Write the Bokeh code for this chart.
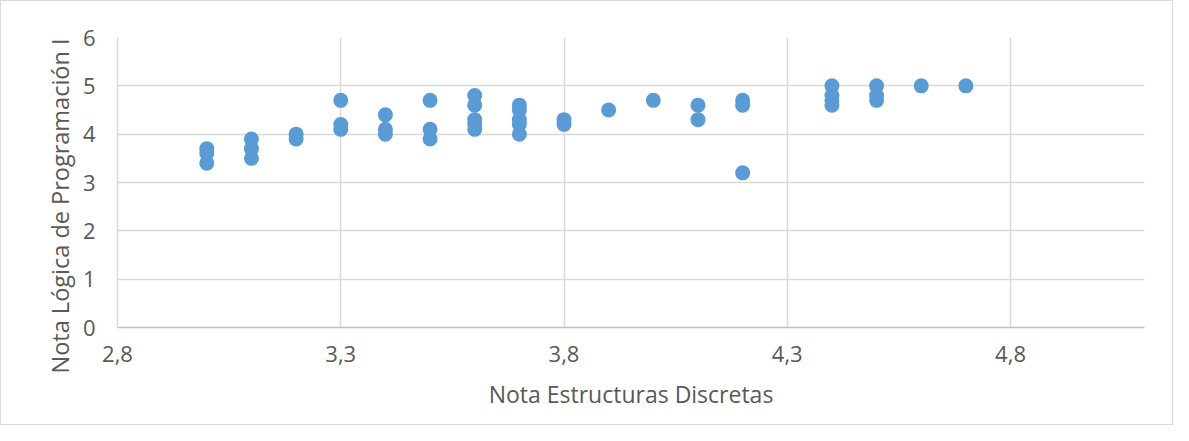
from bokeh.plotting import figure
from bokeh.models import FixedTicker, CustomJSTickFormatter, Range1d, ColumnDataSource, Title
from bokeh.embed import file_html
from bokeh.resources import INLINE

# Nota Estructuras Discretas
x_vals = [3.0, 3.0, 3.0,
          3.1, 3.1, 3.1,
          3.2, 3.2,
          3.3, 3.3, 3.3,
          3.4, 3.4, 3.4,
          3.5, 3.5, 3.5,
          3.6, 3.6, 3.6, 3.6, 3.6,
          3.7, 3.7, 3.7, 3.7, 3.7,
          3.8, 3.8,
          3.9,
          4.0,
          4.1, 4.1,
          4.2, 4.2, 4.2,
          4.4, 4.4, 4.4, 4.4,
          4.5, 4.5, 4.5,
          4.6,
          4.7]
# Nota Lógica de Programación I
y_vals = [3.7, 3.6, 3.4,
          3.9, 3.7, 3.5,
          4.0, 3.9,
          4.7, 4.2, 4.1,
          4.4, 4.1, 4.0,
          4.7, 4.1, 3.9,
          4.8, 4.6, 4.3, 4.2, 4.1,
          4.6, 4.5, 4.3, 4.2, 4.0,
          4.3, 4.2,
          4.5,
          4.7,
          4.6, 4.3,
          4.7, 4.6, 3.2,
          5.0, 4.8, 4.7, 4.6,
          5.0, 4.8, 4.7,
          5.0,
          5.0]

x_ticks = [2.8, 3.3, 3.8, 4.3, 4.8]
y_ticks = [0, 1, 2, 3, 4, 5, 6]

x_title = "Nota Estructuras Discretas"
y_title = "Nota Lógica de Programación I"

src = ColumnDataSource(data=dict(x=x_vals, y=y_vals))

p = figure(width=1173, height=425, output_backend="svg", toolbar_location=None,
           x_range=Range1d(2.8, 5.1), y_range=Range1d(0, 6),
           min_border_left=116, min_border_right=30, min_border_top=36, min_border_bottom=99)
p.styles = {"border": "1px solid #D9D9D9", "box-sizing": "border-box"}
p.outline_line_color = None
p.background_fill_color = "white"
p.border_fill_color = "white"

p.scatter("x", "y", source=src, size=15, fill_color="#5B9BD5", line_color=None)

fmt = CustomJSTickFormatter(code="return tick.toFixed(1).replace('.', ',');")
p.xaxis.ticker = FixedTicker(ticks=x_ticks)
p.xaxis.formatter = fmt
p.yaxis.ticker = FixedTicker(ticks=y_ticks)

for ax in (p.xaxis[0], p.yaxis[0]):
    ax.major_tick_line_color = None
    ax.minor_tick_line_color = None
    ax.major_label_text_font = "Open Sans"
    ax.major_label_text_font_size = "22px"
    ax.major_label_text_color = "#595959"
    ax.axis_label_text_font = "Open Sans"
    ax.axis_label_text_font_size = "23px"
    ax.axis_label_text_color = "#595959"
    ax.axis_label_text_font_style = "normal"

p.xaxis.axis_label = x_title
p.xaxis.axis_line_color = "#BFBFBF"
p.xaxis.axis_line_width = 1.5
p.yaxis.axis_line_color = "#D9D9D9"
p.yaxis.axis_line_width = 1.5
p.xaxis.major_label_standoff = 12
p.yaxis.major_label_standoff = 16
p.xaxis.axis_label_standoff = 13

ytitle = Title(text=y_title, align="left", offset=-46, text_font="Open Sans",
               text_font_size="23.5px", text_font_style="normal", text_color="#595959",
               standoff=8)
p.add_layout(ytitle, "left")

p.xgrid.ticker = FixedTicker(ticks=x_ticks)
p.ygrid.ticker = FixedTicker(ticks=y_ticks)
p.grid.grid_line_color = "#D9D9D9"
p.grid.grid_line_width = 1.5

open("out.html", "w").write(file_html(p, INLINE))
